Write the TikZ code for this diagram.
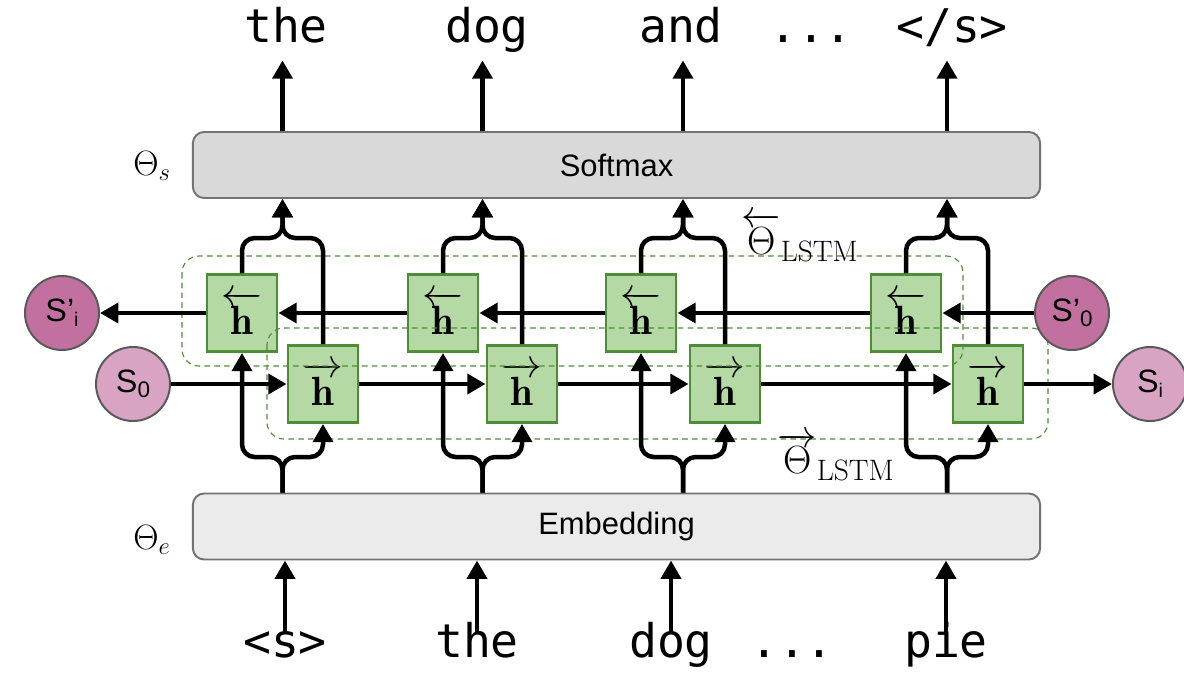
\RequirePackage{fix-cm}
\documentclass[tikz,border=0pt]{standalone}
\usepackage{amsmath}
\usepackage{fontspec}
\setsansfont{Liberation Sans}
\setmonofont{DejaVu Sans Mono}
\usetikzlibrary{arrows.meta}

\definecolor{cellfill}{HTML}{B5D9A5}
\definecolor{cellline}{HTML}{4F8C37}
\definecolor{softfill}{HTML}{D9D9D9}
\definecolor{embfill}{HTML}{EBEBEB}
\definecolor{sdark}{HTML}{C2709F}
\definecolor{slight}{HTML}{D9A3C4}

\begin{document}
\begin{tikzpicture}[x=0.025cm,y=-0.025cm,
  line/.style={line width=3.2pt,-{Triangle[length=13pt,width=14pt]}},
  link/.style={line width=3.2pt,rounded corners=9pt,-{Triangle[length=13pt,width=14pt]}},
  layer/.style={draw=black!55,line width=1.4pt,rounded corners=8pt,minimum width=21.175cm,minimum height=1.65cm,font=\sffamily\fontsize{22}{26}\selectfont},
  cell/.style={draw=cellline,fill=cellfill,line width=2pt,minimum width=1.75cm,minimum height=1.925cm,font=\fontsize{29}{32}\selectfont},
  state/.style={circle,draw=black!65,line width=1.4pt,minimum size=1.85cm,inner sep=0pt,font=\sffamily\fontsize{23}{26}\selectfont},
  word/.style={font=\ttfamily\fontsize{33}{38}\selectfont,text height=0.75em,text depth=0.25em,inner ysep=10pt},
  group/.style={draw=cellline,dash pattern=on 4pt off 3pt,line width=0.8pt,rounded corners=12pt},
  theta/.style={font=\fontsize{25}{28}\selectfont}]

\useasboundingbox (0,0) rectangle (1184,677);

% layers
\node[layer,fill=softfill] (softmax) at (616.5,165) {Softmax};
\node[layer,fill=embfill] (embed) at (616.5,526.5) {Embedding};
\node[theta] (ths) at (152,166) {$\Theta_s$};
\node[theta] (the) at (152,540) {$\Theta_e$};

% lstm cells
\foreach \i/\b/\f in {1/242/323,2/443/522,3/641/725,4/906/988}{
  \node[cell] (b\i) at (\b,313) {$\overleftarrow{\mathbf{h}}$};
  \node[cell] (f\i) at (\f,384) {$\overrightarrow{\mathbf{h}}$};
}
\draw[group] (182,256) rectangle (963,366);
\draw[group] (267,328) rectangle (1048,439);
\node[theta,font=\fontsize{28}{32}\selectfont] (thb) at (800,238) {$\overleftarrow{\Theta}_{\mbox{\fontsize{21}{24}\selectfont LSTM}}$};
\node[theta,font=\fontsize{28}{32}\selectfont] (thf) at (836,457) {$\overrightarrow{\Theta}_{\mbox{\fontsize{21}{24}\selectfont LSTM}}$};

% states
\node[state,fill=sdark] (sib) at (62,313) {S'\raisebox{-0.3ex}{\fontsize{14}{16}\selectfont i}};
\node[state,fill=slight] (s0) at (133,384) {S\raisebox{-0.3ex}{\fontsize{16}{18}\selectfont 0}};
\node[state,fill=sdark] (s0b) at (1072,313) {S'\raisebox{-0.3ex}{\fontsize{16}{18}\selectfont 0}};
\node[state,fill=slight] (si) at (1150,384) {S\raisebox{-0.3ex}{\fontsize{14}{16}\selectfont i}};

% words
\node[word] (o1) at (286,39) {the};
\node[word] (o2) at (487,39) {dog};
\node[word] (o3) at (681,39) {and};
\node[word] (o4) at (811,39) {...};
\node[word] (o5) at (952,39) {</s>};
\node[word] (w1) at (285,654) {<s>};
\node[word] (w2) at (477,654) {the};
\node[word] (w3) at (671,654) {dog};
\node[word] (w4) at (792,654) {...};
\node[word] (w5) at (946,654) {pie};

% recurrences
\draw[line] (s0b) -- (b4);
\draw[line] (b4) -- (b3);
\draw[line] (b3) -- (b2);
\draw[line] (b2) -- (b1);
\draw[line] (b1) -- (sib);
\draw[line] (s0) -- (f1);
\draw[line] (f1) -- (f2);
\draw[line] (f2) -- (f3);
\draw[line] (f3) -- (f4);
\draw[line] (f4) -- (si);

% columns
\foreach \i/\x/\o in {1/282.5/1,2/482.5/2,3/683/3,4/947/5}{
  \coordinate (top\i) at (\x,238);
  \coordinate (bot\i) at (\x,457);
  \draw[link] (b\i.north) |- (top\i) -- (top\i |- softmax.south);
  \draw[link] (f\i.north) |- (top\i) -- (top\i |- softmax.south);
  \draw[link] (bot\i |- embed.north) -- (bot\i) -| (b\i.south);
  \draw[link] (bot\i |- embed.north) -- (bot\i) -| (f\i.south);
  \draw[line] (softmax.north -| top\i) -- (o\o.south -| top\i);
}
\foreach \i in {1,2,3,5}
  \draw[line] (w\i.north) -- (w\i |- embed.south);

\end{tikzpicture}
\end{document}
